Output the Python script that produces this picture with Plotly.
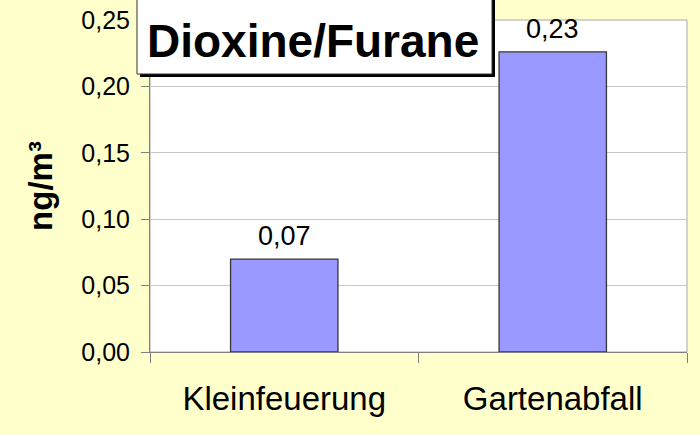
import plotly.graph_objects as go

categories = ["Kleinfeuerung", "Gartenabfall"]
values = [0.07, 0.226]
tick_vals = [0, 0.05, 0.10, 0.15, 0.20, 0.25]
tick_text = ["0,00", "0,05", "0,10", "0,15", "0,20", "0,25"]
title_text = "Dioxine/Furane"
y_title = "ng/m³"

FONT = "Liberation Sans, Arial, sans-serif"
BG = "#FFFFCC"

fig = go.Figure()
fig.add_trace(go.Bar(
    x=categories, y=values, width=0.4,
    marker=dict(color="#9999FF", line=dict(color="#383838", width=1.3)),
    cliponaxis=False,
))

L, R, T, B = 150, 13, 20, 83
W, H = 700, 435
pw, ph = W - L - R, H - T - B

def px(x):
    return (x - L) / pw

def py(y):
    return (H - B - y) / ph

shapes = [
    dict(type="rect", xref="paper", yref="paper", x0=0, x1=1, y0=0, y1=1,
         line=dict(color="#A8A8A8", width=1), layer="below"),
    dict(type="rect", xref="paper", yref="paper", x0=px(140), x1=px(495), y0=py(-5), y1=py(77),
         fillcolor="black", line=dict(width=0), layer="above"),
    dict(type="rect", xref="paper", yref="paper", x0=px(137), x1=px(492), y0=py(-5), y1=py(74),
         fillcolor="white", line=dict(color="#333333", width=1), layer="above"),
]

annotations = [dict(text=title_text, xref="paper", yref="paper",
                    x=px(313), y=py(41), xanchor="center", yanchor="middle",
                    showarrow=False,
                    font=dict(family=FONT, size=46, color="black", weight="bold"))]
for c, v in zip(categories, values):
    annotations.append(dict(text=f"{v:.2f}".replace(".", ","), x=c, y=v,
                            xref="x", yref="y", xanchor="center", yanchor="bottom",
                            yshift=6, showarrow=False,
                            font=dict(family=FONT, size=27, color="black")))

fig.update_layout(
    width=W, height=H,
    margin=dict(l=L, r=R, t=T, b=B, autoexpand=False),
    paper_bgcolor=BG, plot_bgcolor="white",
    showlegend=False,
    bargap=0.6,
    shapes=shapes,
    annotations=annotations,
    xaxis=dict(
        showgrid=False, showline=True, linecolor="#808080", linewidth=1,
        ticks="outside", ticklen=10, tickcolor="#808080", tickson="boundaries",
        tickfont=dict(family=FONT, size=33, color="black"),
        ticklabelstandoff=17,
    ),
    yaxis=dict(
        range=[0, 0.25], tickvals=tick_vals, ticktext=tick_text,
        showgrid=True, gridcolor="#C8C8C8", gridwidth=1,
        showline=True, linecolor="#808080", linewidth=1,
        ticks="outside", ticklen=8, tickcolor="#808080",
        tickfont=dict(family=FONT, size=25, color="black"),
        ticklabelstandoff=6,
        title=dict(text=y_title, standoff=18,
                   font=dict(family=FONT, size=33, color="black", weight="bold")),
        zeroline=False,
    ),
)

fig.write_html("out.html", config={"displayModeBar": False},
               post_script="document.body.style.margin='0';")
